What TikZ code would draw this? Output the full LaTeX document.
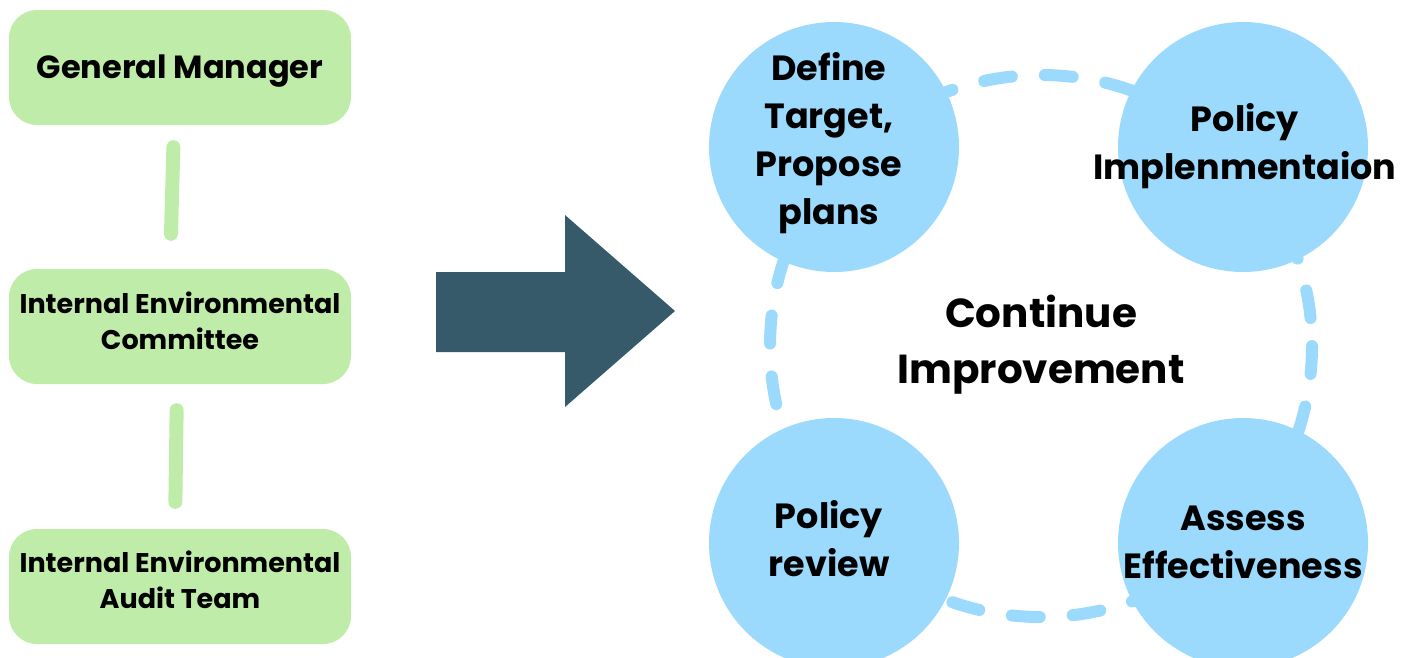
\documentclass[tikz,border=0pt]{standalone}
\usepackage{fontspec}
\setmainfont{Poppins}
\usepackage{tikz}
\usetikzlibrary{positioning}
\definecolor{boxgreen}{RGB}{192,236,170}
\definecolor{stageblue}{RGB}{155,217,253}
\definecolor{arrowcol}{RGB}{55,90,106}
\tikzstyle{role} = [rectangle, rounded corners=28pt, fill=boxgreen, minimum width=342pt, minimum height=115pt, inner sep=0pt]
\tikzstyle{roletext} = [align=center, font=\fontsize{27}{36}\selectfont\bfseries]
\tikzstyle{link} = [draw=boxgreen, line width=14pt, line cap=round]
\tikzstyle{stage} = [circle, fill=stageblue, minimum size=250pt, inner sep=0pt]
\tikzstyle{stagetext} = [align=center, font=\fontsize{35}{48}\selectfont\bfseries]
\tikzstyle{cycleline} = [draw=stageblue, line width=12pt, line cap=round, dash pattern=on 28pt off 33pt]

\begin{document}
\begin{tikzpicture}[x=1pt, y=-1pt]
                    \useasboundingbox (0,0) rectangle (1414,657);
                    % left column
                    \node[role] (gm) at (180,67.5) {};
                    \node[role] (iec) at (180,326.5) {};
                    \node[role] (audit) at (180,586.5) {};
                    \node[roletext, font=\fontsize{32}{36}\selectfont\bfseries] at ([yshift=-4pt]gm) {General Manager};
                    \node[roletext] at ([yshift=6pt]iec) {Internal Environmental\\Committee};
                    \node[roletext] at ([yshift=7pt]audit) {Internal Environmental\\Audit Team};
                    \draw[link, shorten <=22pt, shorten >=35pt] ([xshift=-6pt]gm.south) -- ([xshift=-10pt]iec.north);
                    \draw[link, shorten <=26pt, shorten >=27pt] ([xshift=-3pt]iec.south) -- ([xshift=-5pt]audit.north);

                    % big arrow
                    \fill[arrowcol] (436,272) -- (565,272) -- (565,215) -- (675,311) -- (565,407) -- (565,352) -- (436,352) -- cycle;

                    % cycle
                    \coordinate (hub) at (1041,346);
                    \draw[cycleline] (hub) circle (271);
                    \node[stage] (define) at (834,147) {};
                    \node[stage] (implement) at (1243,147) {};
                    \node[stage] (review) at (834,543) {};
                    \node[stage] (assess) at (1243,543) {};
                    \node[stagetext] at ([xshift=-5pt,yshift=4pt]define) {Define\\Target,\\Propose\\plans};
                    \node[stagetext] at ([xshift=2pt,yshift=1pt]implement) {Policy\\Implenmentaion};
                    \node[stagetext] at ([xshift=-5pt,yshift=4pt]review) {Policy\\review};
                    \node[stagetext] at ([yshift=1pt]assess) {Assess\\Effectiveness};
                    \node[align=center, font=\fontsize{40.5}{56}\selectfont\bfseries] (improve) at ([yshift=1pt]hub) {Continue\\Improvement};
                \end{tikzpicture}
\end{document}
